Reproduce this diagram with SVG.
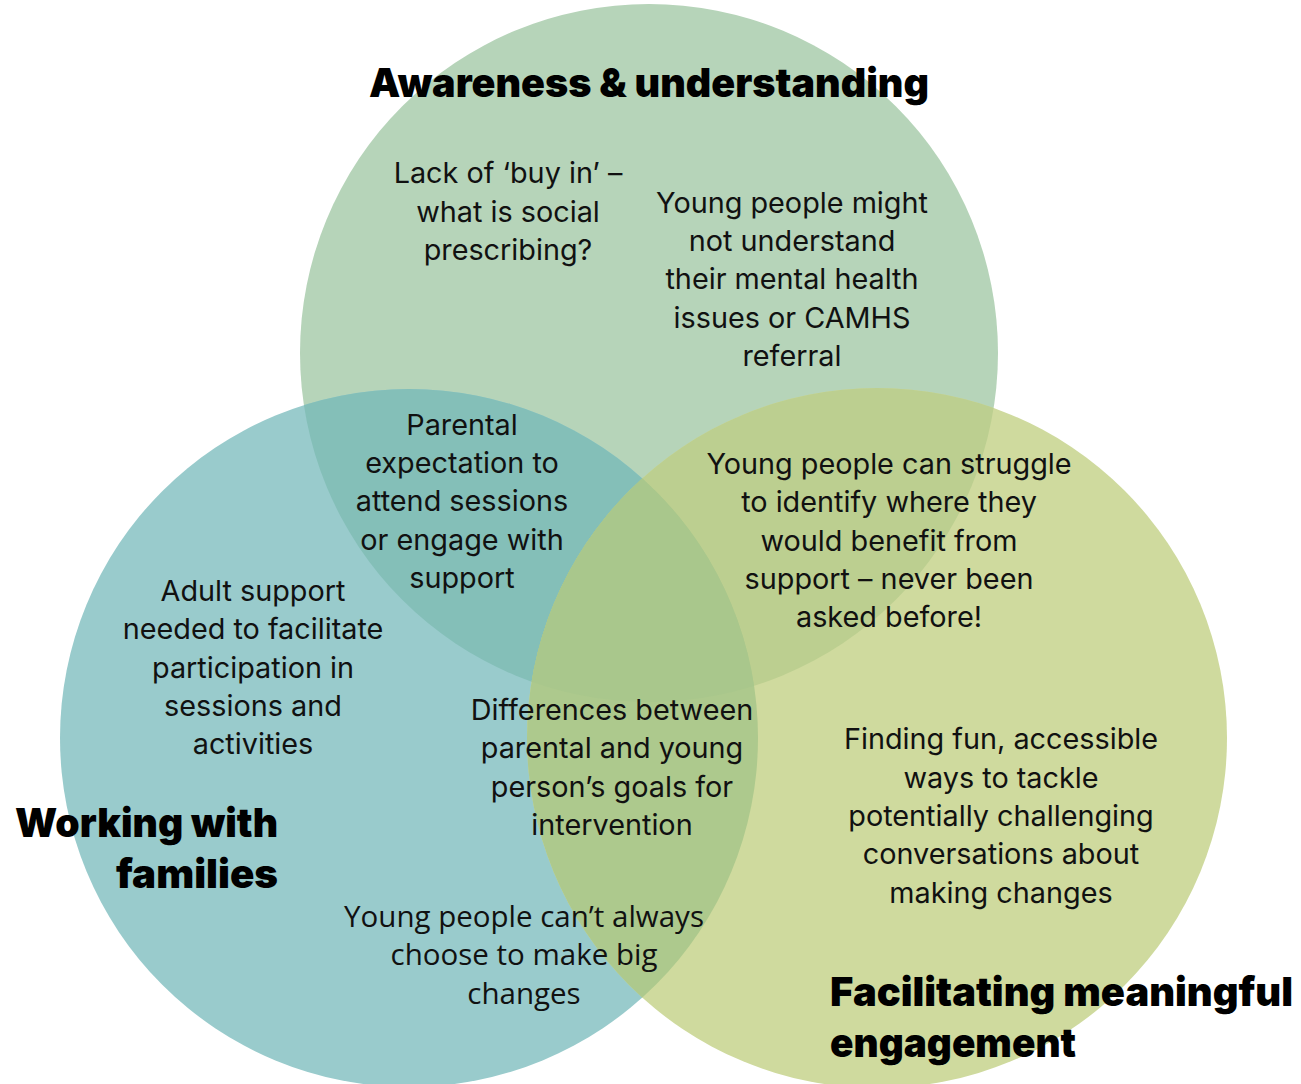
<svg xmlns="http://www.w3.org/2000/svg" width="1301" height="1084" viewBox="0 0 1301 1084">
  <style>
    .body { font-family: Inter, "Noto Sans", "Liberation Sans", sans-serif; font-size: 28.8px; fill: #111; text-anchor: middle; }
    .alt { font-family: "Open Sans", "Noto Sans", sans-serif; font-size: 29.5px; fill: #111; text-anchor: middle; }
    .title { font-family: Inter, "Liberation Sans", sans-serif; font-weight: 900; font-size: 40px; fill: #000; }
  </style>
  <defs>
    <circle id="cT" cx="649" cy="353" r="349"/>
    <circle id="cL" cx="409" cy="738" r="349"/>
    <circle id="cR" cx="877" cy="738" r="350"/>
    <clipPath id="clipT"><use href="#cT"/></clipPath>
    <clipPath id="clipL"><use href="#cL"/></clipPath>
    <clipPath id="clipR"><use href="#cR"/></clipPath>
  </defs>
  <rect width="1301" height="1084" fill="#ffffff"/>

  <!-- circle bodies and their overlap regions -->
  <g id="venn">
    <use href="#cT" fill="#b6d4b9"/>
    <use href="#cL" fill="#99cbcc"/>
    <use href="#cR" fill="#cfda9e"/>
    <g clip-path="url(#clipT)"><use href="#cL" fill="#84bfb8"/></g>
    <g clip-path="url(#clipT)"><use href="#cR" fill="#bccf90"/></g>
    <g clip-path="url(#clipL)"><use href="#cR" fill="#adc98d"/></g>
    <g clip-path="url(#clipL)"><g clip-path="url(#clipT)"><use href="#cR" fill="#a9c78c"/></g></g>
  </g>

  <g id="connectors"/>

  <!-- set titles -->
  <g id="title-awareness">
    <text class="title" x="369" y="97" textLength="560" lengthAdjust="spacingAndGlyphs">Awareness &amp; understanding</text>
  </g>
  <g id="title-families">
    <text class="title" x="15" y="837" textLength="263" lengthAdjust="spacingAndGlyphs">Working with</text>
    <text class="title" x="116" y="888" textLength="162" lengthAdjust="spacingAndGlyphs">families</text>
  </g>
  <g id="title-engagement">
    <text class="title" x="830" y="1006" textLength="463" lengthAdjust="spacingAndGlyphs">Facilitating meaningful</text>
    <text class="title" x="830" y="1057" textLength="246" lengthAdjust="spacingAndGlyphs">engagement</text>
  </g>

  <!-- statements -->
  <g id="buy-in">
    <text x="508" y="183" class="body">Lack of ‘buy in’ –</text>
    <text x="508" y="222" class="body">what is social</text>
    <text x="508" y="260" class="body">prescribing?</text>
  </g>
  <g id="understanding">
    <text x="792" y="213" class="body">Young people might</text>
    <text x="792" y="251" class="body">not understand</text>
    <text x="792" y="289" class="body">their mental health</text>
    <text x="792" y="328" class="body">issues or CAMHS</text>
    <text x="792" y="366" class="body">referral</text>
  </g>
  <g id="parental-expectation">
    <text x="462" y="435" class="body">Parental</text>
    <text x="462" y="473" class="body">expectation to</text>
    <text x="462" y="511" class="body">attend sessions</text>
    <text x="462" y="550" class="body">or engage with</text>
    <text x="462" y="588" class="body">support</text>
  </g>
  <g id="identify-benefit">
    <text x="889" y="474" class="body">Young people can struggle</text>
    <text x="889" y="512" class="body">to identify where they</text>
    <text x="889" y="551" class="body">would benefit from</text>
    <text x="889" y="589" class="body">support – never been</text>
    <text x="889" y="627" class="body">asked before!</text>
  </g>
  <g id="adult-support">
    <text x="253" y="601" class="body">Adult support</text>
    <text x="253" y="639" class="body">needed to facilitate</text>
    <text x="253" y="678" class="body">participation in</text>
    <text x="253" y="716" class="body">sessions and</text>
    <text x="253" y="754" class="body">activities</text>
  </g>
  <g id="differing-goals">
    <text x="612" y="720" class="body">Differences between</text>
    <text x="612" y="758" class="body">parental and young</text>
    <text x="612" y="797" class="body">person’s goals for</text>
    <text x="612" y="835" class="body">intervention</text>
  </g>
  <g id="fun-ways">
    <text x="1001" y="749" class="body">Finding fun, accessible</text>
    <text x="1001" y="788" class="body">ways to tackle</text>
    <text x="1001" y="826" class="body">potentially challenging</text>
    <text x="1001" y="864" class="body">conversations about</text>
    <text x="1001" y="903" class="body">making changes</text>
  </g>
  <g id="big-changes">
    <text x="524" y="927" class="alt">Young people can’t always</text>
    <text x="524" y="965" class="alt">choose to make big</text>
    <text x="524" y="1004" class="alt">changes</text>
  </g>
</svg>
